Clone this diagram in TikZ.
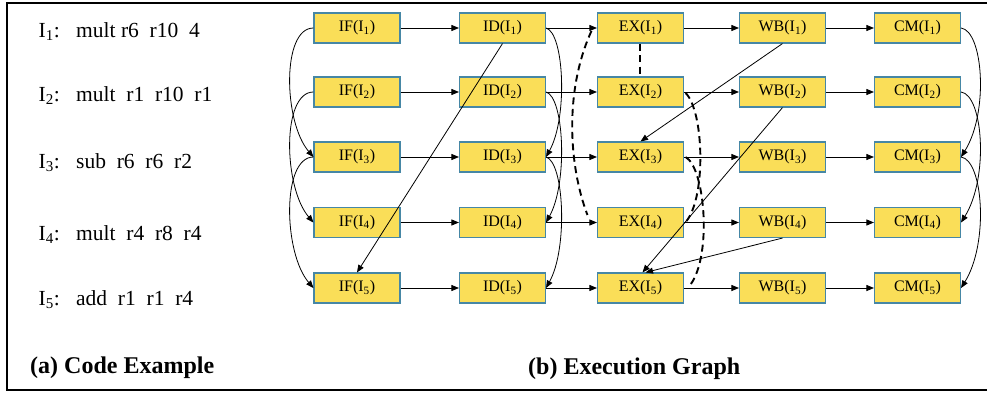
\documentclass[tikz,border=0pt]{standalone}
\usepackage{fontspec}
\setmainfont{Liberation Serif}
\usetikzlibrary{arrows.meta,calc}
\definecolor{boxfill}{RGB}{250,222,88}
\definecolor{boxline}{RGB}{70,135,165}
\begin{document}
\begin{tikzpicture}[x=1pt,y=-1pt,
  stage/.style={draw=boxline, fill=boxfill, line width=1.1pt, minimum width=86pt, minimum height=30pt, inner sep=0pt, font=\fontsize{16}{18}\selectfont},
  arr/.style={-{Triangle[length=7.5pt,width=6pt]}, line width=0.8pt},
  dep/.style={line width=1.9pt, dash pattern=on 7pt off 4.5pt},
  codetext/.style={anchor=base west, inner sep=0pt, font=\fontsize{21.5}{24}\selectfont},
  captext/.style={anchor=base west, inner sep=0pt, font=\fontsize{24}{28}\selectfont\bfseries},
  frameline/.style={line width=2pt, line join=miter}]
\useasboundingbox (0,0) rectangle (987,392);
\draw[frameline] (992,2.5) -- (6.5,2.5) -- (6.5,390) -- (992,390);

% code
\node[codetext] (n1) at (38.5,37.7) {I\textsubscript{1}:};
\node[codetext] (c1) at (76,37.7) {mult r6\ \ r10\ \ 4};
\node[codetext] (n2) at (38.5,101.7) {I\textsubscript{2}:};
\node[codetext] (c2) at (76,101.7) {mult\ \ r1\ \ r10\ \ r1};
\node[codetext] (n3) at (38.5,168.3) {I\textsubscript{3}:};
\node[codetext] (c3) at (76,168.3) {sub\ \ r6\ \ r6\ \ r2};
\node[codetext] (n4) at (38.5,240.7) {I\textsubscript{4}:};
\node[codetext] (c4) at (76,240.7) {mult\ \ r4\ \ r8\ \ r4};
\node[codetext] (n5) at (38.5,305) {I\textsubscript{5}:};
\node[codetext] (c5) at (76,305) {add\ \ r1\ \ r1\ \ r4};

% stages
\foreach \r/\y in {1/28,2/92,3/157,4/222.5,5/288} {
  \node[stage] (IF\r) at (357,\y) {IF(I\textsubscript{\r})};
  \node[stage] (ID\r) at (502.5,\y) {ID(I\textsubscript{\r})};
  \node[stage] (EX\r) at (640.5,\y) {EX(I\textsubscript{\r})};
  \node[stage] (WB\r) at (782.5,\y) {WB(I\textsubscript{\r})};
  \node[stage] (CM\r) at (917.5,\y) {CM(I\textsubscript{\r})};
  \draw[arr] (IF\r.east) -- (ID\r.west);
  \draw[arr] (ID\r.east) -- (EX\r.west);
  \draw[arr] (EX\r.east) -- (WB\r.west);
  \draw[arr] (WB\r.east) -- (CM\r.west);
}

% curved in-order dependencies
\foreach \a/\b in {1/3,2/4,3/5} {
  \draw[arr] (IF\a.west) .. controls +(-32,0) and +(-30,-35) .. (IF\b.west);
  \draw[arr] (ID\a.east) .. controls +(18,5) and +(22,-40) .. (ID\b.east);
  \draw[arr] (CM\a.east) .. controls +(22,3) and +(28,-45) .. (CM\b.east);
}

% diagonal dependencies
\draw[arr] (ID1.south) -- (IF5.north);
\draw[arr] (WB1.south) -- (EX3.north);
\draw[arr] (WB2.south) -- ($(EX5.north)+(2,0)$);
\draw[arr] (WB4.south) -- ($(EX5.north)+(5,0)$);

% dashed resource dependencies
\draw[dep] ($(EX1.south)+(-0.5,0)$) -- ($(EX2.north)+(-0.5,0)$);
\draw[dep] ($(EX1.west)+(-5.5,3)$) .. controls +(-27,59) and +(-19,-50) .. ($(EX4.west)+(-9.5,-7.5)$);
\draw[dep] ($(EX2.east)+(1.5,1)$) .. controls +(18,17) and +(20,-26) .. ($(EX4.east)+(2.5,-1.5)$);
\draw[dep] ($(EX3.east)+(1.5,0)$) .. controls +(20,11) and +(24,-27) .. ($(EX5.east)+(4.5,-1)$);

% captions
\node[captext] (capa) at (30,373) {(a) Code Example};
\node[captext] (capb) at (528,374) {(b) Execution Graph};
\end{tikzpicture}
\end{document}
